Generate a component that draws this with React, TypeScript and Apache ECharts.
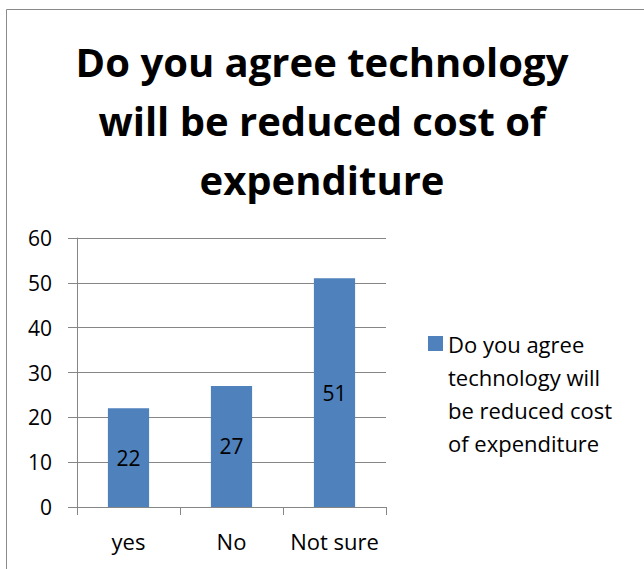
import React, { useEffect, useRef } from "react";
import * as echarts from "echarts";

const categories = ["yes", "No", "Not sure"];
const values = [22, 27, 51];
const seriesName = "Do you agree technology will be reduced cost of expenditure";
const titleText = "Do you agree technology\nwill be reduced cost of\nexpenditure";
const legendLines = ["Do you agree", "technology will", "be reduced cost", "of expenditure"];
const yTicks = { min: 0, max: 60, interval: 10 };

const FONT = "'Open Sans', Lato, sans-serif";

export default function App() {
  const ref = useRef<HTMLDivElement>(null);
  useEffect(() => {
    if (!ref.current) return;
    const chart = echarts.init(ref.current, undefined, { renderer: "svg" });
    chart.setOption({
      animation: false,
      backgroundColor: "#ffffff",
      textStyle: { fontFamily: FONT },
      graphic: [
        {
          type: "rect",
          shape: { x: 6.5, y: 9.5, width: 700, height: 700 },
          style: { fill: "none", stroke: "#8a8a8a", lineWidth: 1 },
          silent: true,
          z: -1,
        },
      ],
      title: {
        text: titleText,
        left: "center",
        top: 32,
        padding: [0, 0, 0, 16],
        textStyle: {
          fontFamily: FONT,
          fontSize: 40,
          fontWeight: "bold",
          lineHeight: 59,
          color: "#000",
        },
      },
      legend: {
        data: [seriesName],
        left: 428,
        top: 228,
        padding: 0,
        itemWidth: 15,
        itemHeight: 15,
        icon: "rect",
        formatter: () => "\n\n\n" + legendLines.join("\n"),
        textStyle: {
          fontFamily: FONT,
          fontSize: 22,
          lineHeight: 33,
          color: "#000",
        },
      },
      grid: { left: 77, right: 258, top: 238, bottom: 62 },
      xAxis: {
        type: "category",
        data: categories,
        axisLine: { show: true, lineStyle: { color: "#868686", width: 1 } },
        axisTick: { show: true, length: 8, lineStyle: { color: "#868686" } },
        axisLabel: {
          color: "#000",
          fontSize: 22,
          margin: 23,
          fontFamily: FONT,
          interval: 0,
          hideOverlap: false,
        },
        splitLine: { show: false },
      },
      yAxis: {
        type: "value",
        min: yTicks.min,
        max: yTicks.max,
        interval: yTicks.interval,
        axisLine: { show: true, lineStyle: { color: "#868686", width: 1 } },
        axisTick: { show: true, length: 9, lineStyle: { color: "#868686" } },
        axisLabel: { color: "#000", fontSize: 21, margin: 25, fontFamily: FONT },
        splitLine: { show: true, lineStyle: { color: "#868686", width: 1 } },
      },
      series: [
        {
          name: seriesName,
          type: "bar",
          data: values,
          barCategoryGap: "60%",
          itemStyle: { color: "#4F81BD" },
          label: {
            show: true,
            position: "inside",
            color: "#000",
            fontSize: 21,
            fontFamily: FONT,
          },
        },
      ],
    });
    return () => chart.dispose();
  }, []);
  return (
    <div
      ref={ref}
      style={{ position: "absolute", left: 0, top: 0, width: 644, height: 569 }}
    />
  );
}
